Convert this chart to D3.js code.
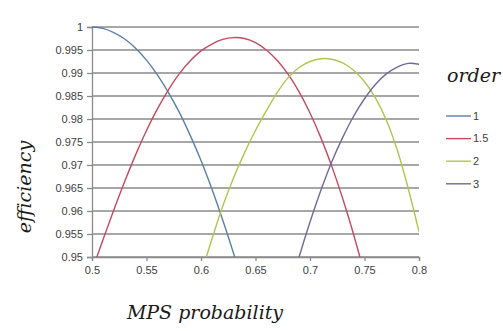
<!DOCTYPE html>
<html>
<head>
<meta charset="utf-8">
<script src="https://cdn.jsdelivr.net/npm/d3@7"></script>
<style>
    body { margin: 0; background: #fff; }
    svg { display: block; }
    .tick-label { font-family: "Liberation Sans", Arial, sans-serif; font-size: 11px; fill: #404040; }
    .title { font-family: "DejaVu Serif", "Liberation Serif", serif; font-style: italic; fill: #1a1a1a; }
</style>
</head>
<body>
<div id="chart"></div>
<script>
// MPS probability sample points per series
const p1 = [0.50, 0.51, 0.52, 0.53, 0.54, 0.55, 0.56, 0.57, 0.58, 0.59, 0.60, 0.61, 0.62, 0.63, 0.64];
const eff1 = [1.0000, 0.9997, 0.9988, 0.9974, 0.9954, 0.9928, 0.9896, 0.9858, 0.9815, 0.9765, 0.9710, 0.9648, 0.9580, 0.9507, 0.9430];

const p15 = [0.50, 0.51, 0.52, 0.53, 0.54, 0.55, 0.56, 0.57, 0.58, 0.59, 0.60, 0.61, 0.62, 0.63,
             0.64, 0.65, 0.66, 0.67, 0.68, 0.69, 0.70, 0.71, 0.72, 0.73, 0.74, 0.75];
const eff15 = [0.9470, 0.9537, 0.9602, 0.9664, 0.9722, 0.9775, 0.9822, 0.9863, 0.9898, 0.9926, 0.9948, 0.9963, 0.9973, 0.9977,
               0.9975, 0.9966, 0.9950, 0.9927, 0.9897, 0.9859, 0.9813, 0.9759, 0.9697, 0.9627, 0.9549, 0.9463];

const p2 = [0.60, 0.61, 0.62, 0.63, 0.64, 0.65, 0.66, 0.67, 0.68, 0.69, 0.70,
            0.71, 0.72, 0.73, 0.74, 0.75, 0.76, 0.77, 0.78, 0.79, 0.80];
const eff2 = [0.9461, 0.9539, 0.9611, 0.9673, 0.9727, 0.9775, 0.9818, 0.9858, 0.9890, 0.9912, 0.9925,
              0.9931, 0.9930, 0.9922, 0.9906, 0.9881, 0.9846, 0.9798, 0.9733, 0.9650, 0.9555];

const p3 = [0.68, 0.69, 0.70, 0.71, 0.72, 0.73, 0.74, 0.75, 0.76, 0.77, 0.78, 0.79, 0.80];
const eff3 = [0.9415, 0.9500, 0.9576, 0.9645, 0.9707, 0.9760, 0.9806, 0.9844, 0.9875, 0.9898, 0.9913, 0.9921, 0.9919];

const orders = ['1', '1.5', '2', '3'];
const colors = ['#5b7fa8', '#c64a5e', '#b3c44e', '#6e6a9c'];

const xTicks = [0.5, 0.55, 0.6, 0.65, 0.7, 0.75, 0.8];
const yTicks = [0.95, 0.955, 0.96, 0.965, 0.97, 0.975, 0.98, 0.985, 0.99, 0.995, 1];

const width = 503, height = 331;
const margin = { left: 92, right: 84, top: 27, bottom: 74 };

const svg = d3.select('#chart').append('svg')
    .attr('width', width)
    .attr('height', height);

const x = d3.scaleLinear().domain([0.5, 0.8]).range([margin.left, width - margin.right]);
const y = d3.scaleLinear().domain([0.95, 1]).range([height - margin.bottom, margin.top]);

// horizontal gridlines
svg.append('g')
    .selectAll('line')
    .data(yTicks)
    .enter()
    .append('line')
    .attr('x1', x(0.5))
    .attr('x2', x(0.8))
    .attr('y1', d => y(d))
    .attr('y2', d => y(d))
    .attr('stroke', '#8a8a8a')
    .attr('stroke-width', 1.3);

// y axis
const yAxis = svg.append('g')
    .attr('transform', `translate(${x(0.5)},0)`)
    .call(d3.axisLeft(y).tickValues(yTicks).tickSize(5).tickPadding(4)
        .tickFormat(d => d3.format('')(+d.toFixed(3))));

// x axis
const xAxis = svg.append('g')
    .attr('transform', `translate(0,${y(0.95)})`)
    .call(d3.axisBottom(x).tickValues(xTicks).tickSize(4).tickPadding(5)
        .tickFormat(d => d3.format('')(+d.toFixed(2))));

[yAxis, xAxis].forEach(ax => {
    ax.select('.domain').attr('stroke', '#8a8a8a').attr('stroke-width', 1.3);
    ax.selectAll('.tick line').attr('stroke', '#8a8a8a').attr('stroke-width', 1.3);
    ax.selectAll('.tick text').attr('class', 'tick-label').attr('font-size', null).attr('font-family', null);
});

// clip curves to the plot area
svg.append('clipPath')
    .attr('id', 'plot-clip')
    .append('rect')
    .attr('x', x(0.5))
    .attr('y', y(1) - 3)
    .attr('width', x(0.8) - x(0.5))
    .attr('height', y(0.95) - y(1) + 3);

const series = [
    { p: p1, e: eff1 },
    { p: p15, e: eff15 },
    { p: p2, e: eff2 },
    { p: p3, e: eff3 }
];

const line = d3.line()
    .x(d => x(d[0]))
    .y(d => y(d[1]))
    .curve(d3.curveCatmullRom);

svg.append('g')
    .attr('clip-path', 'url(#plot-clip)')
    .selectAll('path')
    .data(series)
    .enter()
    .append('path')
    .attr('d', s => line(s.p.map((v, i) => [v, s.e[i]])))
    .attr('fill', 'none')
    .attr('stroke', (s, i) => colors[i])
    .attr('stroke-width', 1.4);

// axis titles
svg.append('text')
    .attr('class', 'title')
    .attr('x', 205)
    .attr('y', 319)
    .attr('text-anchor', 'middle')
    .attr('font-size', 19)
    .text('MPS probability');

svg.append('text')
    .attr('class', 'title')
    .attr('transform', 'translate(31,187) rotate(-90)')
    .attr('text-anchor', 'middle')
    .attr('font-size', 19)
    .text('efficiency');

// legend
svg.append('text')
    .attr('class', 'title')
    .attr('x', 447)
    .attr('y', 82)
    .attr('font-size', 19)
    .text('order');

const legend = svg.append('g')
    .selectAll('g')
    .data(orders)
    .enter()
    .append('g')
    .attr('transform', (d, i) => `translate(446,${116 + i * 22.6})`);

legend.append('line')
    .attr('x1', 0)
    .attr('x2', 25)
    .attr('stroke', (d, i) => colors[i])
    .attr('stroke-width', 1.4);

legend.append('text')
    .attr('class', 'tick-label')
    .attr('x', 27)
    .attr('dy', '0.35em')
    .text(d => d);
</script>
</body>
</html>
